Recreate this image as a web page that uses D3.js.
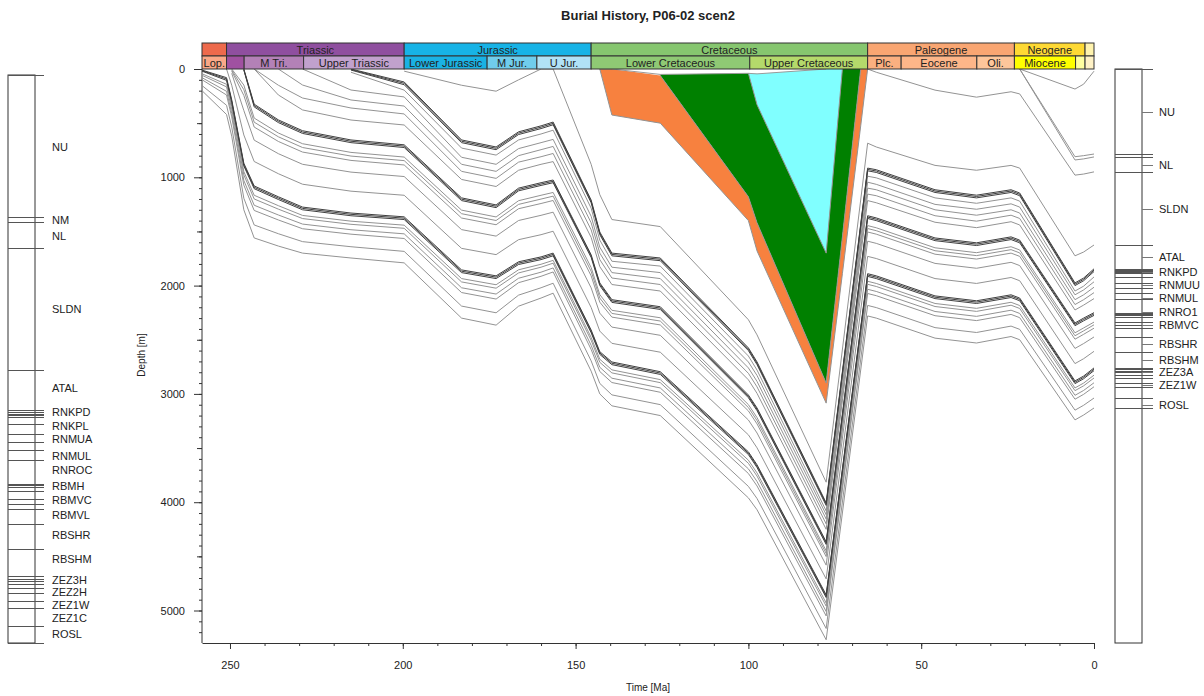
<!DOCTYPE html>
<html>
<head>
<meta charset="utf-8">
<script src="https://cdn.jsdelivr.net/npm/d3@7"></script>
<style>
  body { margin: 0; background: #fff; }
  svg { display: block; font-family: "Liberation Sans", Arial, sans-serif; }
</style>
</head>
<body>
<script>
'use strict';

(function() {

  const _ = null;

  // time nodes of the burial history (Ma)
  const timeNodes = [258.1, 251, 249.5, 246, 243, 236, 229, 215, 199.6, 183, 173, 166.5, 160, 156.5,
                     145.5, 143, 139.5, 125.5, 100, 97.5, 77.5, 72.8, 67.5, 65.5, 63, 46, 34, 24, 21.5, 5.5, 3, 0];

  // horizon depths (m) at every time node, null before deposition / after erosion
  const horizonNames = ["NU1", "NM", "NL", "SL_eros", "KC", "KG", "KO", "ATAL",
                        "U0", "U1", "U2", "Ucomp", "RNMU1", "RNMU2", "RNMU3", "RNMU4",
                        "M0", "M1", "M2", "Mc1", "Mc2", "Mc3", "Mc4", "Mc5",
                        "L0", "L1", "L2", "Lc1", "Lc2", "Lc3", "Lc4", "Lc5", "B"];
  const horizonDepths = [
    [_,_,_,_,_,_,_,_,_,_,_,_,_,_,_,_,_,_,_,_,_,_,_,_,_,_,_,_, 0, 185, 140, 20],
    [_,_,_,_,_,_,_,_,_,_,_,_,_,_,_,_,_,_,_,_,_,_,_,_,_,_,_,_, 0, 810, 800, 785],
    [_,_,_,_,_,_,_,_,_,_,_,_,_,_,_,_,_,_,_,_,_,_,_,_,_,_,_,_, 0, 840, 830, 812],
    [_,_,_,_,_,_,_,_,_,_,_,_,_,_,_,_,_,_,_,_,_,_,_, 0, 30, 195, 260, 210, 230, 980, 970, 950],
    [_,_,_,_,_,_,_,_,_,_,_,_,_,_,_,_,_,_, 40, 330, 1700, 0, _,_,_,_,_,_,_,_,_,_],
    [_,_,_,_,_,_,_,_,_,_,_,_,_,_,_,_,_, 60, 1180, 1420, 2900, 1550, 0, _,_,_,_,_,_,_,_,_],
    [_,_,_,_,_,_,_,_,_,_,_,_,_,_,_, 0, 425, 500, 1400, 1680, 3085, 1890, 525, 0, _,_,_,_,_,_,_,_],
    [_,_,_,_,_,_,_,_, 20, 150, 205, 100, 0, 0, 880, 1160, 1390, 1455, 2315, 2455, 3815, _, _, 685, 720, 890, 935, 890, 915, 1725, 1690, 1625],
    [_,_,_,_,_,_,_, 0, 120, 655, 720, 580, 525, 490, 1210, 1505, 1700, 1745, 2575, 2705, 4005, _, _, 915, 930, 1115, 1165, 1115, 1145, 1975, 1930, 1845],
    [_,_,_,_,_,_,_, 5, 132, 667, 732, 592, 537, 502, 1222, 1517, 1712, 1757, 2587, 2717, 4017, _, _, 927, 942, 1127, 1177, 1127, 1157, 1987, 1942, 1857],
    [_,_,_,_,_,_,_, 10, 145, 680, 745, 605, 550, 515, 1235, 1530, 1725, 1770, 2600, 2730, 4030, _, _, 940, 955, 1140, 1190, 1140, 1170, 2000, 1955, 1870],
    [_,_,_,_,_,_,_, 30, 195, 730, 795, 655, 600, 565, 1285, 1580, 1775, 1820, 2650, 2780, 4080, _, _, 990, 1005, 1190, 1240, 1190, 1220, 2050, 2005, 1920],
    [_,_,_,_,_,_, 0, 194, 258, 815, 880, 735, 680, 650, 1360, 1645, 1830, 1880, 2705, 2830, 4115, _, _, 1045, 1065, 1250, 1295, 1245, 1275, 2085, 2040, 1965],
    [_,_,_,_,_, 0, 148, 286, 342, 880, 945, 800, 745, 715, 1420, 1700, 1880, 1935, 2760, 2885, 4155, _, _, 1100, 1115, 1300, 1350, 1300, 1330, 2130, 2085, 2015],
    [_,_,_,_, 0, 150, 268, 360, 415, 945, 1010, 860, 810, 780, 1485, 1760, 1930, 1990, 2810, 2935, 4200, _, _, 1155, 1170, 1355, 1405, 1350, 1380, 2175, 2130, 2065],
    [_,_,_,_, 0, 240, 378, 471, 517, 1020, 1085, 935, 880, 855, 1555, 1825, 1990, 2050, 2870, 2995, 4250, _, _, 1215, 1235, 1415, 1465, 1410, 1440, 2225, 2180, 2120],
    [_,_,_, 0, 325, 470, 570, 655, 700, 1190, 1255, 1100, 1050, 1025, 1715, 1975, 2130, 2195, 3010, 3130, 4365, _, _, 1355, 1375, 1560, 1605, 1550, 1580, 2345, 2300, 2250],
    [_,_,_, 5, 337, 482, 582, 667, 712, 1202, 1267, 1112, 1062, 1037, 1727, 1987, 2142, 2207, 3022, 3142, 4377, _, _, 1367, 1387, 1572, 1617, 1562, 1592, 2357, 2312, 2262],
    [_,_,_, 10, 350, 495, 595, 680, 725, 1215, 1280, 1125, 1075, 1050, 1740, 2000, 2155, 2220, 3035, 3155, 4390, _, _, 1380, 1400, 1585, 1630, 1575, 1605, 2370, 2325, 2275],
    [_,_, 0, 148, 453, 591, 690, 770, 813, 1303, 1366, 1216, 1166, 1140, 1833, 2083, 2228, 2297, 3099, 3219, 4448, _, _, 1446, 1466, 1651, 1696, 1641, 1671, 2436, 2391, 2337],
    [_,_, 10, 191, 491, 626, 725, 804, 846, 1336, 1399, 1250, 1201, 1174, 1868, 2115, 2257, 2327, 3126, 3246, 4473, _, _, 1473, 1493, 1678, 1723, 1668, 1698, 2463, 2418, 2362],
    [_,_, 20, 244, 536, 669, 767, 844, 886, 1376, 1438, 1290, 1242, 1214, 1910, 2153, 2291, 2363, 3157, 3277, 4502, _, _, 1505, 1525, 1710, 1755, 1700, 1730, 2495, 2450, 2393],
    [_,_, 40, 383, 657, 782, 880, 952, 993, 1483, 1543, 1399, 1351, 1322, 2021, 2254, 2383, 2459, 3241, 3361, 4581, _, _, 1590, 1610, 1795, 1840, 1785, 1815, 2580, 2535, 2474],
    [_, 0, 150, 609, 854, 967, 1064, 1128, 1166, 1656, 1714, 1576, 1530, 1498, 2202, 2420, 2533, 2615, 3378, 3498, 4708, _, _, 1730, 1750, 1935, 1980, 1925, 1955, 2720, 2675, 2607],
    [10, 80, 285, 870, 1080, 1180, 1275, 1330, 1365, 1855, 1910, 1780, 1735, 1700, 2410, 2610, 2705, 2795, 3535, 3655, 4855, _, _, 1890, 1910, 2095, 2140, 2085, 2115, 2880, 2835, 2760],
    [15, 92, 297, 882, 1092, 1192, 1287, 1342, 1377, 1867, 1922, 1792, 1747, 1712, 2422, 2622, 2717, 2807, 3547, 3667, 4867, _, _, 1902, 1922, 2107, 2152, 2097, 2127, 2892, 2847, 2772],
    [20, 105, 310, 895, 1105, 1205, 1300, 1355, 1390, 1880, 1935, 1805, 1760, 1725, 2435, 2635, 2730, 2820, 3560, 3680, 4880, _, _, 1915, 1935, 2120, 2165, 2110, 2140, 2905, 2860, 2785],
    [44, 141, 345, 947, 1166, 1262, 1352, 1405, 1442, 1935, 1992, 1854, 1803, 1767, 2478, 2680, 2778, 2868, 3612, 3730, 4930, _, _, 1960, 1980, 2165, 2210, 2154, 2184, 2945, 2900, 2827],
    [58, 165, 369, 978, 1200, 1294, 1381, 1434, 1471, 1966, 2024, 1883, 1830, 1793, 2505, 2708, 2806, 2896, 3641, 3759, 4959, _, _, 1988, 2008, 2193, 2238, 2181, 2211, 2970, 2925, 2853],
    [80, 206, 409, 1029, 1258, 1348, 1432, 1484, 1522, 2020, 2078, 1932, 1876, 1837, 2551, 2754, 2855, 2945, 3692, 3809, 5009, _, _, 2034, 2054, 2239, 2284, 2227, 2257, 3013, 2968, 2897],
    [99, 240, 442, 1072, 1306, 1394, 1475, 1525, 1565, 2064, 2124, 1973, 1914, 1874, 2589, 2793, 2895, 2985, 3735, 3850, 5050, _, _, 2073, 2093, 2278, 2323, 2266, 2296, 3049, 3004, 2934],
    [153, 335, 536, 1193, 1440, 1521, 1594, 1641, 1684, 2189, 2251, 2088, 2020, 1978, 2695, 2903, 3009, 3099, 3854, 3966, 5166, _, _, 2183, 2203, 2388, 2433, 2374, 2404, 3150, 3105, 3038],
    [200, 420, 620, 1300, 1560, 1635, 1700, 1745, 1790, 2300, 2365, 2190, 2115, 2070, 2790, 3000, 3110, 3200, 3960, 4070, 5270, _, _, 2280, 2300, 2485, 2530, 2470, 2500, 3240, 3195, 3130]
  ];

  // sediment surface (paleo water depth, m) while the Cretaceous layers were there
  const surfaceDepth = [_,_,_,_,_,_,_,_,_,_,_,_,_,_,_, 0, 0, 50, 40, 45, 0, _,_,_,_,_,_,_,_,_,_,_];

  // coloured (later eroded) layers, top to bottom, named by their base horizon
  const colouredLayers = ["KC", "KG", "KO"];

  // geological time scale
  const periodNames = ["", "Triassic", "Jurassic", "Cretaceous", "Paleogene", "Neogene", ""];
  const periodStart = [260.4, 251, 199.6, 145.5, 65.5, 23.03, 2.588];
  const periodEnd   = [251, 199.6, 145.5, 65.5, 23.03, 2.588, 0];
  const epochNames = ["Lop.", "", "M Tri.", "Upper Triassic", "Lower Jurassic", "M Jur.", "U Jur.",
                      "Lower Cretaceous", "Upper Cretaceous", "Plc.", "Eocene", "Oli.", "Miocene", "", ""];
  const epochStart = [260.4, 251, 245.9, 228.7, 199.6, 175.6, 161.2, 145.5, 99.6, 65.5, 55.8, 33.9, 23.03, 5.332, 2.588];
  const epochEnd   = [251, 245.9, 228.7, 199.6, 175.6, 161.2, 145.5, 99.6, 65.5, 55.8, 33.9, 23.03, 5.332, 2.588, 0];

  // present-day well column (m)
  const wellBoundaries = [0, 785, 812, 951, 1625, 1846, 1855, 1865, 1874, 1883, 1920, 1975, 2021, 2068, 2123,
                          2252, 2261, 2270, 2289, 2335, 2363, 2391, 2474, 2609, 2760, 2774, 2788, 2802,
                          2825, 2852, 2898, 2935, 3037, 3129];
  const leftLabelNames = ["NU", "NM", "NL", "SLDN", "ATAL", "RNKPD", "RNKPL", "RNMUA", "RNMUL", "RNROC",
                          "RBMH", "RBMVC", "RBMVL", "RBSHR", "RBSHM", "ZEZ3H", "ZEZ2H", "ZEZ1W", "ZEZ1C", "ROSL"];
  const leftLabelDepths = [397, 799, 887, 1289, 1725, 1857, 1934, 2006, 2099, 2176,
                           2264, 2342, 2424, 2534, 2667, 2782, 2848, 2920, 2992, 3080];
  const rightLabelNames = ["NU", "NL", "SLDN", "ATAL", "RNKPD", "RNMUU", "RNMUL", "RNRO1", "RBMVC",
                           "RBSHR", "RBSHM", "ZEZ3A", "ZEZ1W", "ROSL"];
  const rightLabelDepths = [395, 885, 1291, 1734, 1873, 1993, 2113, 2242, 2362, 2538, 2686, 2797, 2917, 3101];

  const depthTicks = [0, 1000, 2000, 3000, 4000, 5000];
  const timeTicks = [250, 200, 150, 100, 50, 0];

  // styles
  const darkHorizons = ["U0", "U1", "U2", "M0", "M1", "M2", "L0", "L1", "L2"];
  const layerColours = { "KC": "#80ffff", "KG": "#008000", "KO": "#f7813f" };
  const periodColours = ["#ee6a4c", "#8f4f9f", "#17b3e6", "#86c66f", "#f9a672", "#fed934", "#fff3ae"];
  const epochColours = ["#faa887", "#a051a1", "#b381b7", "#c1a1cd", "#1ab2e4", "#70cdec", "#b1e2f6",
                        "#8fc974", "#b4d96b", "#fbb080", "#fdb689", "#fdc69b", "#ffff00", "#ffffa0", "#fff2c6"];

  let svgContainer = "";

  window.onload = function() {
    svgContainer = d3.select('body')
                     .append('svg')
                     .attr('width', 1204)
                     .attr('height', 696);
    makeChart();
  }

  function makeChart() {
    // scales + axes
    let map = drawAxes();

    // eroded coloured layers, then the horizon lines on top
    drawLayers(map);
    drawHorizons(map);

    // time scale bar above the plot
    drawTimeScale(map);

    // well columns left (own scale) and right (plot depth scale)
    let yLeft = d3.scaleLinear().domain([0, 3129]).range([75, 643]);
    drawColumn(yLeft, 8, 75, leftLabelNames, leftLabelDepths, false);
    drawColumn(map.y, 1115, 69, rightLabelNames, rightLabelDepths, true);

    makeLabels();
  }

  function drawAxes() {
    let xScale = d3.scaleLinear().domain([258.1, 0]).range([202, 1094]);
    let yScale = d3.scaleLinear().domain([0, 5300]).range([69, 643]);

    svgContainer.append('clipPath')
      .attr('id', 'plotClip')
      .append('rect')
      .attr('x', 202).attr('y', 69)
      .attr('width', 893).attr('height', 574);

    // minor depth ticks every 100 m, 500 m a bit longer
    svgContainer.append('g')
      .attr('transform', 'translate(202, 0)')
      .call(d3.axisLeft(yScale).tickValues(d3.range(0, 5300, 100)).tickSize(3).tickFormat(''))
      .call((g) => g.select('.domain').remove());
    svgContainer.append('g')
      .attr('transform', 'translate(202, 0)')
      .call(d3.axisLeft(yScale).tickValues(d3.range(500, 5300, 1000)).tickSize(5).tickFormat(''))
      .call((g) => g.select('.domain').remove());

    let yAxis = svgContainer.append('g')
      .attr('transform', 'translate(202, 0)')
      .call(d3.axisLeft(yScale).tickValues(depthTicks).tickFormat(d3.format('d'))
              .tickSize(8).tickSizeOuter(0).tickPadding(9));
    yAxis.select('.domain').attr('d', 'M0,69V643');

    svgContainer.append('g')
      .attr('transform', 'translate(0, 643)')
      .call(d3.axisBottom(xScale).tickValues(d3.range(10, 260, 10)).tickSize(3).tickFormat(''))
      .call((g) => g.select('.domain').remove());
    svgContainer.append('g')
      .attr('transform', 'translate(0, 643)')
      .call(d3.axisBottom(xScale).tickValues(timeTicks).tickFormat(d3.format('d'))
              .tickSize(6).tickSizeOuter(0).tickPadding(12));

    svgContainer.selectAll('.tick text')
      .attr('font-family', '"Liberation Sans", Arial, sans-serif')
      .attr('font-size', 11)
      .attr('fill', '#222');
    svgContainer.selectAll('.tick line, .domain').attr('stroke', '#333');

    return { x: xScale, y: yScale };
  }

  // fill the coloured layers between their base and the next horizon above
  function drawLayers(map) {
    let g = svgContainer.append('g').attr('clip-path', 'url(#plotClip)');
    colouredLayers.forEach((name, k) => {
      let base = horizonDepths[horizonNames.indexOf(name)];
      let pts = [];
      timeNodes.forEach((t, j) => {
        if (base[j] === null) return;
        let top = surfaceDepth[j] === null ? 0 : surfaceDepth[j];
        for (let m = k - 1; m >= 0; m--) {
          let above = horizonDepths[horizonNames.indexOf(colouredLayers[m])][j];
          if (above !== null) { top = above; break; }
        }
        pts.push({ t: t, top: top, base: base[j] });
      });
      let area = d3.area()
        .x((p) => map.x(p.t))
        .y0((p) => map.y(p.base))
        .y1((p) => map.y(p.top));
      g.append('path')
        .attr('d', area(pts))
        .attr('fill', layerColours[name]);
    });
  }

  function drawHorizons(map) {
    let g = svgContainer.append('g').attr('clip-path', 'url(#plotClip)');
    let line = d3.line()
      .x((p) => map.x(p.t))
      .y((p) => map.y(p.d));

    let surf = timeNodes.map((t, j) => ({ t: t, d: surfaceDepth[j] })).filter((p) => p.d !== null);
    g.append('path')
      .attr('d', line(surf))
      .attr('fill', 'none')
      .attr('stroke', '#999')
      .attr('stroke-width', 1);

    // grey lines first, dark bundles on top
    let order = horizonNames.map((n, i) => i)
      .sort((a, b) => darkHorizons.includes(horizonNames[a]) - darkHorizons.includes(horizonNames[b]));
    order.forEach((i) => {
      let pts = timeNodes.map((t, j) => ({ t: t, d: horizonDepths[i][j] }))
                         .filter((p) => p.d !== null);
      let dark = darkHorizons.includes(horizonNames[i]);
      g.append('path')
        .attr('d', line(pts))
        .attr('fill', 'none')
        .attr('stroke', dark ? '#404040' : '#939393')
        .attr('stroke-width', 1);
    });
  }

  function drawTimeScale(map) {
    let clampX = (t) => map.x(Math.min(t, 258.1));
    let rows = [
      { names: periodNames, start: periodStart, end: periodEnd, colours: periodColours, y: 43 },
      { names: epochNames, start: epochStart, end: epochEnd, colours: epochColours, y: 56 }
    ];
    rows.forEach((row) => {
      row.names.forEach((name, i) => {
        let x0 = clampX(row.start[i]);
        let x1 = clampX(row.end[i]);
        svgContainer.append('rect')
          .attr('x', x0).attr('y', row.y)
          .attr('width', x1 - x0).attr('height', 13)
          .attr('fill', row.colours[i])
          .attr('stroke', '#333')
          .attr('stroke-width', 1);
        if (name) {
          svgContainer.append('text')
            .attr('x', (x0 + x1) / 2)
            .attr('y', row.y + 10.5)
            .attr('text-anchor', 'middle')
            .style('font-size', '11px')
            .attr('fill', '#222')
            .text(name);
        }
      });
    });
  }

  // stratigraphic column with boundaries and names
  function drawColumn(yScale, x, top, names, depths, leaders) {
    svgContainer.append('rect')
      .attr('x', x).attr('y', top)
      .attr('width', 27).attr('height', 643 - top)
      .attr('fill', 'none')
      .attr('stroke', '#333');

    svgContainer.selectAll(null)
      .data(wellBoundaries)
      .enter()
      .append('line')
      .attr('x1', x).attr('x2', x + 36 + (leaders ? 2 : 0))
      .attr('y1', (d) => Math.round(yScale(d)) + 0.5)
      .attr('y2', (d) => Math.round(yScale(d)) + 0.5)
      .attr('stroke', '#555');

    if (leaders) {
      svgContainer.selectAll(null)
        .data(depths)
        .enter()
        .append('line')
        .attr('x1', x + 27).attr('x2', x + 38)
        .attr('y1', (d) => Math.round(yScale(d)) + 0.5)
        .attr('y2', (d) => Math.round(yScale(d)) + 0.5)
        .attr('stroke', '#777');
    }

    svgContainer.selectAll(null)
      .data(names)
      .enter()
      .append('text')
      .attr('x', x + 44)
      .attr('y', (d, i) => yScale(depths[i]))
      .attr('dy', '0.35em')
      .style('font-size', '11px')
      .attr('fill', '#222')
      .text((d) => d);
  }

  function makeLabels() {
    svgContainer.append('text')
      .attr('x', 648)
      .attr('y', 20)
      .attr('text-anchor', 'middle')
      .style('font-size', '13px')
      .style('font-weight', 'bold')
      .attr('fill', '#222')
      .text("Burial History, P06-02 scen2");

    svgContainer.append('text')
      .attr('x', 648)
      .attr('y', 691)
      .attr('text-anchor', 'middle')
      .style('font-size', '10px')
      .attr('fill', '#222')
      .text('Time [Ma]');

    svgContainer.append('text')
      .attr('transform', 'translate(145, 355)rotate(-90)')
      .attr('text-anchor', 'middle')
      .style('font-size', '10px')
      .attr('fill', '#222')
      .text('Depth [m]');
  }

})();
</script>
</body>
</html>
